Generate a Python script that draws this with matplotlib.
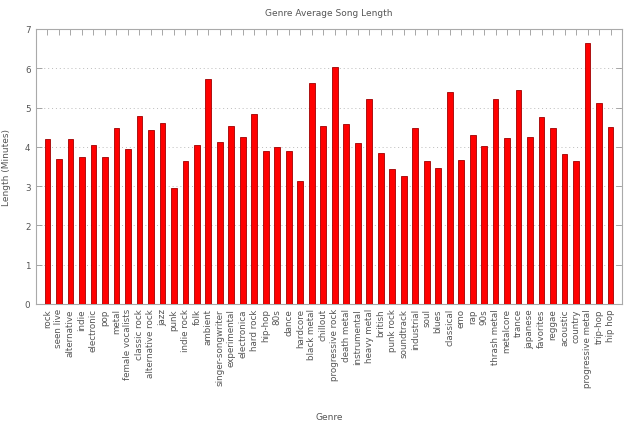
import matplotlib
matplotlib.use('Agg')
import matplotlib.pyplot as plt

genres = ['rock', 'seen live', 'alternative', 'indie', 'electronic', 'pop', 'metal',
          'female vocalists', 'classic rock', 'alternative rock', 'jazz', 'punk',
          'indie rock', 'folk', 'ambient', 'singer-songwriter', 'experimental',
          'electronica', 'hard rock', 'hip-hop', '80s', 'dance', 'hardcore',
          'black metal', 'chillout', 'progressive rock', 'death metal', 'instrumental',
          'heavy metal', 'british', 'punk rock', 'soundtrack', 'industrial', 'soul',
          'blues', 'classical', 'emo', 'rap', '90s', 'thrash metal', 'metalcore',
          'trance', 'japanese', 'favorites', 'reggae', 'acoustic', 'country',
          'progressive metal', 'trip-hop', 'hip hop']
lengths = [4.21, 3.68, 4.19, 3.75, 4.05, 3.74, 4.49, 3.95, 4.79, 4.42, 4.61, 2.95,
           3.64, 4.05, 5.73, 4.13, 4.53, 4.26, 4.84, 3.89, 3.99, 3.89, 3.14, 5.62,
           4.54, 6.03, 4.57, 4.09, 5.23, 3.84, 3.43, 3.25, 4.47, 3.65, 3.47, 5.40,
           3.67, 4.30, 4.03, 5.23, 4.23, 5.46, 4.26, 4.77, 4.49, 3.82, 3.63, 6.65,
           5.12, 4.51]

grey = '#808080'
pos = list(range(1, len(genres) + 1))

fig = plt.figure(figsize=(6.4, 4.27), dpi=100)
ax = fig.add_axes([36/640, 1 - 305/427, 586/640, 275/427])

ax.bar(pos, lengths, width=0.5, color='#ff0000', edgecolor='#a00000',
       linewidth=0.6, zorder=3)

ax.set_xlim(0, 51)
ax.set_ylim(0, 7)
ax.set_xticks(pos)
ax.set_xticklabels(genres, rotation=90, fontsize=6.3, color='#555555')
ax.set_yticks(range(8))
ax.tick_params(axis='y', labelsize=6.3, labelcolor='#555555')
ax.tick_params(direction='in', top=True, right=True, length=4, width=0.6,
               color='#999999', pad=4)
ax.tick_params(axis='x', pad=3)

for s in ax.spines.values():
    s.set_color('#aaaaaa')
    s.set_linewidth(0.8)

ax.yaxis.grid(True, linestyle=(0, (1, 3)), color='#bbbbbb', linewidth=0.7, zorder=0)

ax.set_title('Genre Average Song Length', fontsize=6.5, color='#555555', pad=10)
ax.set_ylabel('Length (Minutes)', fontsize=6.5, color='#555555', labelpad=10)
ax.set_xlabel('Genre', fontsize=6.5, color='#555555', labelpad=18)

fig.savefig('out.png', dpi=100)
